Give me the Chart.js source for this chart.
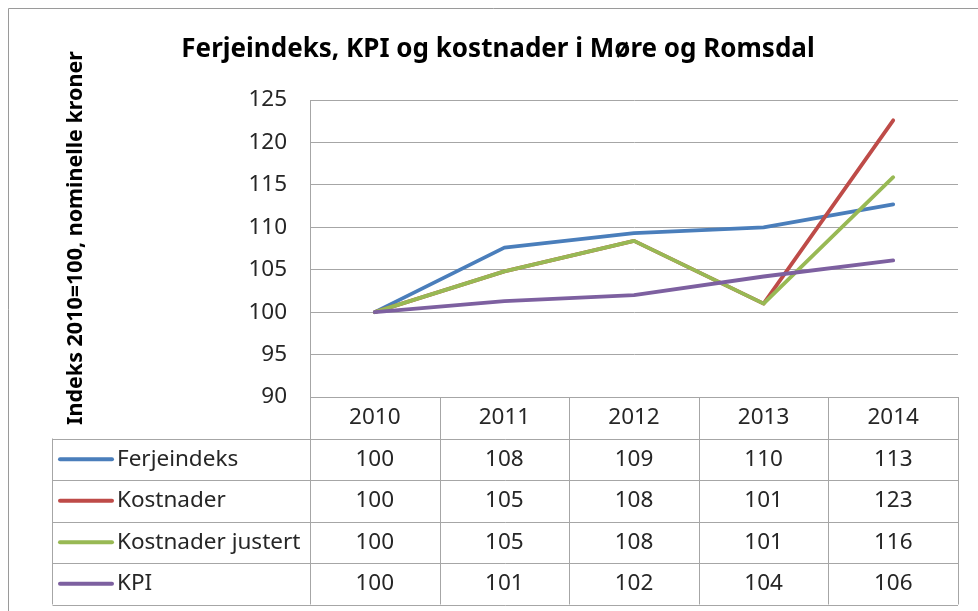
<!DOCTYPE html>
<html>
<head>
<meta charset="utf-8">
<script src="https://cdn.jsdelivr.net/npm/chart.js@4.4.1/dist/chart.umd.min.js"></script>
<style>
  html, body { margin: 0; padding: 0; background: #fff; }
  #wrap { position: relative; width: 978px; height: 611px; }
</style>
</head>
<body>
<div id="wrap"><canvas id="chart" width="978" height="611"></canvas></div>
<script>
const years = ['2010', '2011', '2012', '2013', '2014'];
const seriesNames = ['Ferjeindeks', 'Kostnader', 'Kostnader justert', 'KPI'];
const seriesColors = ['#4a7ebb', '#be4b48', '#98b954', '#7d60a0'];

// values (the table shows them rounded)
const ferjeindeks = [100, 107.6, 109.3, 110.0, 112.7];
const kostnader = [100, 104.8, 108.4, 101.0, 122.6];
const kostnaderJustert = [100, 104.8, 108.4, 101.0, 115.9];
const kpi = [100, 101.3, 102.0, 104.2, 106.1];

const yTicks = [90, 95, 100, 105, 110, 115, 120, 125];

const allSeries = [ferjeindeks, kostnader, kostnaderJustert, kpi];
const textColor = '#262626';
const gridColor = '#a6a6a6';
const rowHeight = 41.5;

const frameAndTable = {
    id: 'frameAndTable',
    beforeDraw(chart) {
        const ctx = chart.ctx;
        ctx.save();
        ctx.strokeStyle = '#9a9a9a';
        ctx.lineWidth = 1;
        ctx.beginPath();
        ctx.moveTo(8.5, 611);
        ctx.lineTo(8.5, 8.5);
        ctx.lineTo(978, 8.5);
        ctx.stroke();

        // chart title
        ctx.fillStyle = '#000';
        ctx.font = 'bold 26px "Noto Sans", sans-serif';
        ctx.textAlign = 'center';
        ctx.textBaseline = 'middle';
        ctx.fillText('Ferjeindeks, KPI og kostnader i Møre og Romsdal', 498, 50);
        ctx.restore();
    },
    afterDraw(chart) {
        const ctx = chart.ctx;
        const area = chart.chartArea;
        const x = chart.scales.x;
        const top = area.bottom;
        const left = area.left;
        const right = area.right;
        const tableLeft = 52.5;
        const bottom = top + rowHeight * (allSeries.length + 1);
        ctx.save();
        ctx.strokeStyle = gridColor;
        ctx.lineWidth = 1;
        ctx.beginPath();
        // horizontal rules
        for (let r = 0; r <= allSeries.length + 1; r++) {
            const yy = Math.round(top + r * rowHeight) + 0.5;
            ctx.moveTo(r === 0 ? left : tableLeft, yy);
            ctx.lineTo(right, yy);
        }
        // column rules
        const colW = (right - left) / years.length;
        for (let c = 0; c <= years.length; c++) {
            const xx = Math.round(left + c * colW) + 0.5;
            ctx.moveTo(xx, top);
            ctx.lineTo(xx, bottom);
        }
        ctx.moveTo(tableLeft, top + rowHeight);
        ctx.lineTo(tableLeft, bottom);
        ctx.stroke();

        ctx.fillStyle = textColor;
        ctx.font = '22.5px "Noto Sans", sans-serif';
        ctx.textAlign = 'center';
        ctx.textBaseline = 'middle';
        years.forEach((yr, i) => {
            ctx.fillText(yr, x.getPixelForValue(i), top + rowHeight / 2);
        });
        allSeries.forEach((vals, s) => {
            const cy = top + rowHeight * (s + 1.5);
            ctx.textAlign = 'center';
            vals.forEach((v, i) => {
                ctx.fillText(v.toFixed(0), x.getPixelForValue(i), cy);
            });
            ctx.strokeStyle = seriesColors[s];
            ctx.lineWidth = 4;
            ctx.lineCap = 'round';
            ctx.beginPath();
            ctx.moveTo(60, cy);
            ctx.lineTo(112, cy);
            ctx.stroke();
            ctx.textAlign = 'left';
            ctx.fillText(seriesNames[s], 117, cy);
        });

        // y axis title
        ctx.font = 'bold 21.5px "Noto Sans", sans-serif';
        ctx.textAlign = 'center';
        ctx.translate(76, 238);
        ctx.rotate(-Math.PI / 2);
        ctx.fillStyle = '#000';
        ctx.fillText('Indeks 2010=100, nominelle kroner', 0, 0);
        ctx.restore();
    }
};

new Chart(document.getElementById('chart'), {
    type: 'line',
    data: {
        labels: years,
        datasets: allSeries.map((vals, s) => ({
            label: seriesNames[s],
            data: vals,
            borderColor: seriesColors[s],
            backgroundColor: seriesColors[s],
            borderWidth: 3.8,
            borderCapStyle: 'round',
            borderJoinStyle: 'round',
            pointRadius: 0,
            tension: 0,
            order: allSeries.length - s
        }))
    },
    options: {
        responsive: false,
        animation: false,
        layout: { padding: { left: 0, right: 20, top: 100, bottom: 214 } },
        scales: {
            x: {
                offset: true,
                ticks: { display: false },
                grid: { display: false },
                border: { display: false },
                afterFit(scale) { scale.height = 0; }
            },
            y: {
                min: 90,
                max: 125,
                afterBuildTicks(scale) { scale.ticks = yTicks.map(v => ({ value: v })); },
                ticks: {
                    color: textColor,
                    padding: 23,
                    font: { family: '"Noto Sans", sans-serif', size: 22.5 }
                },
                grid: { color: gridColor, lineWidth: 1, drawTicks: false },
                border: { display: true, color: gridColor },
                afterFit(scale) { scale.width = 310; }
            }
        },
        plugins: {
            legend: { display: false },
            tooltip: { enabled: false },
            title: { display: false }
        }
    },
    plugins: [frameAndTable]
});
</script>
</body>
</html>
